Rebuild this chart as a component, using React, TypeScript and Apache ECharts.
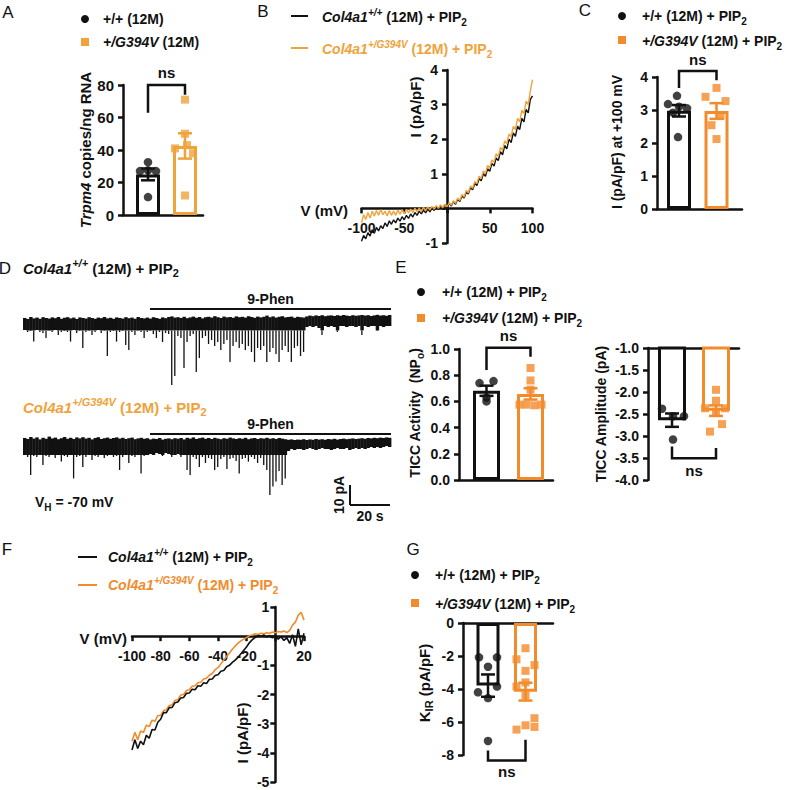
import React, { useEffect, useRef } from "react";
import * as echarts from "echarts";

const FONT = '"Liberation Sans", Arial, Helvetica, sans-serif';
const BLACK = "#111111";
const ORANGE_A = "#F0A23B";
const ORANGE = "#F28B2C";

// ---------------- DATA ----------------
// A: Trpm4 copies / ng RNA
const trpm4WT = [32.5, 27, 27.5, 27, 11];
const trpm4Mut = [71, 50, 43, 41, 38, 12];
// C: I (pA/pF) at +100 mV
const i100WT = [3.43, 3.18, 3.1, 3.05, 2.92, 2.18];
const i100Mut = [3.67, 3.4, 3.27, 2.82, 2.54, 2.12];
// E: TICC activity (NPo) and amplitude (pA)
const ticcActWT = [0.74, 0.755, 0.6, 0.63];
const ticcActMut = [0.855, 0.76, 0.69, 0.575, 0.575, 0.57, 0.575];
const ticcAmpWT = [-2.38, -2.55, -2.55, -3.08];
const ticcAmpMut = [-1.95, -2.2, -2.37, -2.37, -2.45, -2.73, -2.9];
// G: KIR (pA/pF)
const kirWT = [-2.08, -2.08, -2.65, -3.85, -4.2, -4.55, -7.15];
const kirMut = [-1.53, -2.2, -2.55, -2.9, -3.6, -3.85, -4.4, -5.77, -6.2, -6.3, -6.46];

// B: I-V ramp (-100..100 mV, 2.5 mV steps)
const bVoltages = Array.from({ length: 81 }, (_, i) => -100 + 2.5 * i);
const bCurrentWT = [
  -0.95, -0.78, -0.88, -0.7, -0.8, -0.62, -0.72, -0.55, -0.65, -0.5,
  -0.58, -0.42, -0.52, -0.36, -0.46, -0.33, -0.42, -0.28, -0.37, -0.24,
  -0.33, -0.2, -0.29, -0.16, -0.25, -0.12, -0.2, -0.08, -0.16, -0.05,
  -0.13, -0.02, -0.1, 0.01, -0.06, 0.05, -0.03, 0.08, 0.0, 0.11,
  0.03, 0.15, 0.07, 0.2, 0.12, 0.27, 0.2, 0.36, 0.3, 0.47,
  0.42, 0.6, 0.54, 0.72, 0.66, 0.86, 0.8, 1.0, 0.93, 1.15,
  1.07, 1.3, 1.22, 1.46, 1.38, 1.64, 1.55, 1.82, 1.72, 2.0,
  1.9, 2.18, 2.08, 2.38, 2.28, 2.6, 2.5, 2.86, 2.76, 3.15,
  3.25,
];
const bCurrentMut = [
  -0.42, -0.18, -0.32, -0.12, -0.28, -0.08, -0.22, -0.06, -0.2, -0.04,
  -0.18, -0.08, -0.22, -0.06, -0.2, -0.08, -0.2, -0.05, -0.17, -0.04,
  -0.15, -0.03, -0.13, -0.02, -0.12, 0.0, -0.1, 0.01, -0.08, 0.03,
  -0.06, 0.04, -0.04, 0.06, -0.02, 0.08, 0.0, 0.1, 0.02, 0.12,
  0.05, 0.16, 0.09, 0.22, 0.15, 0.3, 0.23, 0.4, 0.33, 0.52,
  0.45, 0.65, 0.58, 0.78, 0.72, 0.93, 0.86, 1.08, 1.01, 1.24,
  1.17, 1.4, 1.33, 1.58, 1.5, 1.76, 1.68, 1.95, 1.87, 2.15,
  2.07, 2.37, 2.28, 2.6, 2.5, 2.84, 2.74, 3.1, 3.0, 3.4,
  3.72,
];

// F: KIR I-V (-100..20 mV, 2 mV steps)
const fVoltages = Array.from({ length: 61 }, (_, i) => -100 + 2 * i);
const fCurrentWT = [
  -3.9, -3.55, -3.85, -3.6, -3.72, -3.4, -3.5, -3.2, -3.22, -2.95,
  -2.85, -2.62, -2.62, -2.45, -2.44, -2.28, -2.26, -2.12, -2.1, -1.96,
  -1.95, -1.82, -1.84, -1.7, -1.72, -1.6, -1.62, -1.48, -1.47, -1.35,
  -1.32, -1.2, -1.18, -1.05, -1.0, -0.9, -0.82, -0.72, -0.6, -0.48,
  -0.36, -0.22, -0.12, -0.04, 0.02, 0.0, 0.04, -0.03, 0.02, -0.06,
  0.0, -0.1, -0.02, -0.15, -0.05, -0.25, 0.05, -0.35, 0.25, -0.3,
  0.1,
];
const fCurrentMut = [
  -3.6, -3.3, -3.55, -3.25, -3.3, -3.05, -3.1, -2.88, -2.92, -2.72,
  -2.72, -2.55, -2.52, -2.38, -2.35, -2.2, -2.18, -2.02, -2.0, -1.86,
  -1.84, -1.72, -1.7, -1.6, -1.58, -1.47, -1.44, -1.34, -1.28, -1.15,
  -1.08, -0.95, -0.82, -0.7, -0.58, -0.45, -0.34, -0.24, -0.16, -0.1,
  -0.04, 0.02, 0.04, 0.08, 0.06, 0.1, 0.08, 0.12, 0.1, 0.14,
  0.12, 0.16, 0.14, 0.18, 0.12, 0.2, 0.38, 0.48, 0.72, 0.82,
  0.55,
];

// D: TICC recordings, per-bin upper / lower excursions (pA)
const wtTraceHi = [
  2, 1.5, 2.5, 1.8, 2.2, 1.6, 2.4, 2, 1.7, 2.3,
  1.9, 2.5, 1.6, 2.1, 2.4, 1.8, 2.2, 1.5, 2.3, 2,
  1.7, 2.4, 2, 1.6, 2.2, 1.9, 2.5, 1.8, 2.1, 1.6,
  2.3, 2, 1.7, 2.4, 1.9, 2.2, 1.6, 2.5, 2, 1.8,
  2.2, 1.7, 2.4, 2, 1.6, 2.3, 1.9, 2.5, 2.8, 2.2,
  2.4, 2, 2.6, 1.9, 2.3, 2.7, 2.1, 2.5, 1.8, 2.4,
  2.6, 2.2, 2.9, 2.4, 2, 2.7, 2.3, 2.5, 2.1, 2.8,
  2.4, 2.6, 2.2, 2.9, 2.5, 2.1, 2.7, 2.3, 2.6, 3.2,
  2.4, 2.8, 2.2, 2.6, 2.9, 2.3, 2.5, 2.7, 2.1, 2.6,
  2.4, 2.2, 2.8, 3.2, 2.9, 3.3, 3, 3.4, 2.9, 3.2,
  3.3, 3, 3.4, 3.1, 3.5, 3.2, 3, 3.4, 3.1, 3.3,
  3.5, 3.2, 3.4, 3, 3.3, 3.6, 3.2, 3.4, 3.1, 3.5,
];
const wtTraceLo = [
  -4, -5, -4.5, -9.8, -4, -5, -5.5, -8, -4.5, -5,
  -4, -6.5, -5, -4.5, -5, -9.8, -4, -5.5, -4.5, -13,
  -5, -4.5, -6.5, -5, -4, -5.5, -4.5, -17, -5, -4.5,
  -9.8, -5, -4.5, -11.5, -14, -5, -6.5, -4.5, -5, -8,
  -5, -4.5, -6, -8, -5, -10, -5.5, -6, -31.5, -27,
  -7, -8, -23, -10, -7, -6, -25, -18, -8, -7,
  -11, -9, -12, -10, -14, -11, -9, -20, -12, -10,
  -13, -11, -14, -12, -15, -20, -13, -14, -12, -20,
  -15, -13, -16, -20, -14, -12, -15, -20, -13, -12,
  -17, -15, -2.5, -2, -2.5, -2, -3, -6.5, -2, -2.5,
  -2, -2.5, -5, -2, -2, -2.5, -2, -2, -2.5, -2,
  -6.5, -2, -2.5, -2, -2, -4.5, -2, -2.5, -2, -2,
];
const mutTraceHi = [
  3.5, 3, 4, 3.2, 3.8, 2.8, 3.6, 3.1, 4.2, 3.3,
  3.7, 2.9, 3.4, 4, 3.1, 3.6, 3, 3.8, 3.3, 3.9,
  3.2, 3.6, 2.8, 3.5, 3.9, 3, 3.4, 3.7, 3.1, 3.5,
  3.8, 3.2, 3.6, 3, 3.4, 3.7, 2.9, 3.3, 3.6, 3.1,
  3.4, 2.8, 3.2, 3, 3.5, 2.7, 3.1, 3.3, 2.9, 3.4,
  3.1, 3.5, 2.8, 3.6, 3.2, 3.8, 3, 3.4, 3.7, 3.1,
  3.5, 3, 3.6, 3.2, 2.9, 3.4, 3.1, 3.7, 3.3, 3,
  3.4, 3.1, 3.6, 2.9, 3.3, 3.5, 3, 3.4, 3.2, 3.6,
  3.1, 3.4, 3, 3.5, 3.2, 2.9, 2.6, 2.8, 2.5, 2.7,
  2.6, 2.9, 2.5, 2.8, 2.6, 3, 2.7, 2.9, 2.6, 3,
  2.8, 3.1, 2.7, 3, 3.2, 2.9, 3.1, 3.3, 3, 3.2,
  3.4, 3.1, 3.5, 3.3, 3.6, 3.4, 3.7, 3.5, 3.8, 3.6,
];
const mutTraceLo = [
  -5, -6, -15, -5.5, -6, -5, -10, -5.5, -6, -5,
  -6.5, -5, -8.3, -5.5, -6, -5, -16.7, -6, -5.5, -11,
  -6, -5, -7.5, -5.5, -6, -5, -6.5, -5.5, -5, -6,
  -5.5, -12.5, -6, -5, -9, -5.5, -6, -5, -14.2, -5.5,
  -5, -4.5, -5, -4, -4.5, -5.5, -4, -4.5, -6, -5,
  -4.5, -6, -5, -12.5, -15, -6, -7, -11, -6, -9,
  -6.5, -7, -12.5, -11, -7, -6, -12, -7, -6.5, -8,
  -14.2, -7, -6.5, -8.3, -6, -7, -9, -6.5, -10, -12.5,
  -25, -20.8, -18.3, -13, -20, -16.7, -3, -2, -2.5, -2,
  -2, -2.5, -2, -1.5, -2, -2.5, -2, -1.5, -2, -2,
  -2.5, -2, -1.5, -2, -2, -1.5, -2.5, -2, -1.5, -2,
  -1.5, -2, -1.5, -1, -1.5, -1, -1.5, -1, -0.5, -1,
];
const TRACE_DT = 184 / 120; // seconds per bin
const PHEN_START = 63.5; // s, 9-Phen application
const TRACE_END = 184; // s
const SCALE_T = 20; // s
const SCALE_I = 10; // pA

// ---------------- HELPERS ----------------
const mean = (a: number[]) => a.reduce((s, v) => s + v, 0) / a.length;
const sem = (a: number[]) => {
  const m = mean(a);
  const sd = Math.sqrt(a.reduce((s, v) => s + (v - m) ** 2, 0) / (a.length - 1));
  return sd / Math.sqrt(a.length);
};

function richStyles(size: number, color: string) {
  const small = Math.round(size * 0.7);
  const base: any = { fill: color, fontFamily: FONT, fontWeight: "bold", fontSize: size, lineHeight: size + 6 };
  return {
    n: { ...base },
    i: { ...base, fontStyle: "italic" },
    supi: { fill: color, fontFamily: FONT, fontWeight: "bold", fontStyle: "italic", fontSize: small, lineHeight: small, verticalAlign: "top" },
    sub: { fill: color, fontFamily: FONT, fontWeight: "bold", fontSize: small, lineHeight: Math.round(small * 0.8), verticalAlign: "bottom" },
  };
}

function txt(x: number, y: number, text: string, size: number, color: string, opts: any = {}) {
  return {
    type: "text",
    x,
    y,
    rotation: opts.rotation || 0,
    silent: true,
    style: {
      text,
      rich: richStyles(size, color),
      fill: color,
      fontFamily: FONT,
      fontWeight: "bold",
      fontSize: size,
      align: opts.align || "left",
      verticalAlign: "middle",
    },
  };
}

function letter(x: number, y: number, t: string) {
  return {
    type: "text", x, y, silent: true,
    style: { text: t, fill: BLACK, fontFamily: FONT, fontSize: 17, align: "center", verticalAlign: "middle" },
  };
}

const dot = (cx: number, cy: number, color: string) => ({ type: "circle", shape: { cx, cy, r: 4 }, style: { fill: color }, silent: true });
const sq = (cx: number, cy: number, color: string) => ({ type: "rect", shape: { x: cx - 4, y: cy - 4, width: 8, height: 8 }, style: { fill: color }, silent: true });
const seg = (x1: number, x2: number, y: number, color: string) => ({ type: "line", shape: { x1, y1: y, x2, y2: y }, style: { stroke: color, lineWidth: 2 }, silent: true });

const axisLine = { show: true, onZero: false, lineStyle: { color: BLACK, width: 2.5 } };
const axisTick = { show: true, length: 5, lineStyle: { color: BLACK, width: 2.5 } };
const labelStyle = { color: BLACK, fontFamily: FONT, fontWeight: "bold" as const, fontSize: 14 };
const hideZero = (v: number) => (v === 0 ? "" : String(v));

type Group = { values: number[]; jitter: number[]; color: string; symbol: string };
type BarPanel = {
  box: { left: number; top: number; width: number; height: number };
  centers: [number, number];
  barWidth: number;
  y: [number, number, number];
  decimals: number;
  xTop: boolean;
  groups: Group[];
  bracket: { y: number; legL: number; legR: number; textY: number };
  labelSize: number;
  name?: { text: string; gap: number; size: number };
};

function addBarPanel(p: BarPanel, gi: number, opt: any) {
  const u = p.centers[1] - p.centers[0];
  const xmin = 1 - (p.centers[0] - p.box.left) / u;
  const xmax = xmin + p.box.width / u;
  opt.grid.push({ ...p.box, containLabel: false });
  opt.xAxis.push({
    type: "value", gridIndex: gi, min: xmin, max: xmax, position: p.xTop ? "top" : "bottom",
    axisLine, axisTick: { show: false }, axisLabel: { show: false }, splitLine: { show: false },
  });
  const yAxis: any = {
    type: "value", gridIndex: gi, min: p.y[0], max: p.y[1], interval: p.y[2], position: "left",
    axisLine, axisTick, splitLine: { show: false },
    axisLabel: { ...labelStyle, fontSize: p.labelSize, margin: 9, formatter: (v: number) => v.toFixed(p.decimals) },
  };
  if (p.name) {
    const base = { color: BLACK, fontFamily: FONT, fontWeight: "bold", fontSize: p.name.size };
    yAxis.name = p.name.text;
    yAxis.nameLocation = "middle";
    yAxis.nameRotate = 90;
    yAxis.nameGap = p.name.gap;
    yAxis.nameTextStyle = { ...base, rich: { n: { ...base }, i: { ...base, fontStyle: "italic" } } };
  }
  opt.yAxis.push(yAxis);
  opt.series.push({
    type: "bar", xAxisIndex: gi, yAxisIndex: gi, barWidth: p.barWidth, z: 2, silent: true,
    data: p.groups.map((g, k) => ({ value: [k + 1, mean(g.values)], itemStyle: { color: "#ffffff", borderColor: g.color, borderWidth: 3 } })),
  });
  p.groups.forEach((g, k) => {
    opt.series.push({
      type: "scatter", xAxisIndex: gi, yAxisIndex: gi, z: 3, silent: true,
      symbol: g.symbol, symbolSize: g.symbol === "circle" ? 8.5 : 8,
      itemStyle: { color: g.color },
      data: g.values.map((v, j) => [k + 1 + g.jitter[j] / u, v]),
    });
  });
  opt.series.push({
    type: "custom", xAxisIndex: gi, yAxisIndex: gi, z: 4, silent: true,
    data: p.groups.map((g, k) => [k + 1, mean(g.values), sem(g.values)]),
    renderItem: (params: any, api: any) => {
      const x = api.value(0), m = api.value(1), s = api.value(2);
      const a = api.coord([x, m + s]);
      const b = api.coord([x, m - s]);
      const color = p.groups[params.dataIndex].color;
      const cap = 7;
      const st = { stroke: color, lineWidth: 2.5 };
      return {
        type: "group",
        children: [
          { type: "line", shape: { x1: a[0], y1: a[1], x2: b[0], y2: b[1] }, style: st },
          { type: "line", shape: { x1: a[0] - cap, y1: a[1], x2: a[0] + cap, y2: a[1] }, style: st },
          { type: "line", shape: { x1: b[0] - cap, y1: b[1], x2: b[0] + cap, y2: b[1] }, style: st },
        ],
      };
    },
  });
  opt.series.push({
    type: "custom", xAxisIndex: gi, yAxisIndex: gi, z: 5, clip: false, silent: true,
    data: [[1, 2, p.bracket.y, p.bracket.legL, p.bracket.legR, p.bracket.textY]],
    renderItem: (_: any, api: any) => {
      const a = api.coord([api.value(0), api.value(3)]);
      const b = api.coord([api.value(0), api.value(2)]);
      const c = api.coord([api.value(1), api.value(2)]);
      const d = api.coord([api.value(1), api.value(4)]);
      const t = api.coord([(api.value(0) + api.value(1)) / 2, api.value(5)]);
      return {
        type: "group",
        children: [
          { type: "polyline", shape: { points: [a, b, c, d] }, style: { stroke: BLACK, lineWidth: 2.5, fill: null } },
          { type: "text", x: t[0], y: t[1], style: { text: "ns", fill: BLACK, fontFamily: FONT, fontWeight: "bold", fontSize: 15, align: "center", verticalAlign: "middle" } },
        ],
      };
    },
  });
}

// I-V panel: axes crossing at the origin (moved there with axis offsets)
function addIVPanel(gi: number, opt: any, box: any, xr: [number, number, number], yr: [number, number, number], yMargin: number) {
  opt.grid.push({ ...box, containLabel: false });
  const zeroY = box.top + box.height * (yr[1] / (yr[1] - yr[0]));
  const zeroX = box.left + box.width * (-xr[0] / (xr[1] - xr[0]));
  opt.xAxis.push({
    type: "value", gridIndex: gi, min: xr[0], max: xr[1], interval: xr[2], position: "bottom",
    offset: -(box.top + box.height - zeroY),
    axisLine, axisTick, splitLine: { show: false },
    axisLabel: { ...labelStyle, margin: 13, formatter: hideZero },
  });
  opt.yAxis.push({
    type: "value", gridIndex: gi, min: yr[0], max: yr[1], interval: yr[2], position: "left",
    offset: -(zeroX - box.left),
    axisLine, axisTick, splitLine: { show: false },
    axisLabel: { ...labelStyle, margin: yMargin, formatter: hideZero },
  });
}

function traceSeries(gi: number, hi: number[], lo: number[], floor: number) {
  return {
    type: "custom", xAxisIndex: gi, yAxisIndex: gi, silent: true, clip: false,
    data: hi.map((h, i) => [i * TRACE_DT, h, lo[i]]),
    renderItem: (_: any, api: any) => {
      const t = api.value(0), h = api.value(1), l = api.value(2);
      const bottom = Math.max(l, floor);
      const p1 = api.coord([t, h]);
      const p2 = api.coord([t + TRACE_DT, bottom]);
      const children: any[] = [
        { type: "rect", shape: { x: p1[0], y: p1[1], width: p2[0] - p1[0] + 0.4, height: p2[1] - p1[1] }, style: { fill: BLACK } },
      ];
      if (l < floor) {
        const a = api.coord([t + TRACE_DT / 2, floor]);
        const b = api.coord([t + TRACE_DT / 2, l]);
        children.push({ type: "line", shape: { x1: a[0], y1: a[1], x2: b[0], y2: b[1] }, style: { stroke: BLACK, lineWidth: 1.3 } });
      }
      return { type: "group", children };
    },
  };
}

function phenSeries(gi: number, yLine: number, yText: number) {
  return {
    type: "custom", xAxisIndex: gi, yAxisIndex: gi, clip: false, silent: true, z: 5,
    data: [[PHEN_START, TRACE_END]],
    renderItem: (_: any, api: any) => {
      const a = api.coord([api.value(0), yLine]);
      const b = api.coord([api.value(1), yLine]);
      const t = api.coord([(api.value(0) + api.value(1)) / 2, yText]);
      return {
        type: "group",
        children: [
          { type: "line", shape: { x1: a[0], y1: a[1], x2: b[0], y2: b[1] }, style: { stroke: BLACK, lineWidth: 2 } },
          { type: "text", x: t[0], y: t[1], style: { text: "9-Phen", fill: BLACK, fontFamily: FONT, fontWeight: "bold", fontSize: 14, align: "center", verticalAlign: "middle" } },
        ],
      };
    },
  };
}

function buildOption() {
  const opt: any = { animation: false, backgroundColor: "#ffffff", grid: [], xAxis: [], yAxis: [], series: [] };

  // 0: A
  addBarPanel({
    box: { left: 123, top: 85, width: 80, height: 130 }, centers: [148, 185], barWidth: 24,
    y: [0, 80, 20], decimals: 0, xTop: false, labelSize: 15,
    name: { text: "{i|Trpm4}{n| copies/ng RNA}", gap: 30, size: 15 },
    groups: [
      { values: trpm4WT, jitter: [0, -8, 0, 8, 0], color: BLACK, symbol: "circle" },
      { values: trpm4Mut, jitter: [0, 0, 2, -10, 8, 0], color: ORANGE_A, symbol: "rect" },
    ],
    bracket: { y: 80, legL: 63, legR: 74, textY: 88 },
  }, 0, opt);

  // 1: B (I-V)
  addIVPanel(1, opt, { left: 361.5, top: 70, width: 171, height: 173 }, [-100, 100, 50], [-1, 4, 1], 9);
  opt.series.push({
    type: "line", xAxisIndex: 1, yAxisIndex: 1, symbol: "none", z: 3, silent: true,
    lineStyle: { color: BLACK, width: 1.4 }, data: bVoltages.map((v, i) => [v, bCurrentWT[i]]),
  });
  opt.series.push({
    type: "line", xAxisIndex: 1, yAxisIndex: 1, symbol: "none", z: 4, silent: true,
    lineStyle: { color: ORANGE_A, width: 1.4 }, data: bVoltages.map((v, i) => [v, bCurrentMut[i]]),
  });

  // 2: C
  addBarPanel({
    box: { left: 657, top: 77, width: 85, height: 132 }, centers: [679, 716.5], barWidth: 24,
    y: [0, 4, 1], decimals: 0, xTop: false, labelSize: 14,
    groups: [
      { values: i100WT, jitter: [-2, -11, 0, 8, -6, -1], color: BLACK, symbol: "circle" },
      { values: i100Mut, jitter: [0, -11, 9, 4, -5, 0], color: ORANGE, symbol: "rect" },
    ],
    bracket: { y: 4.18, legL: 3.67, legR: 3.9, textY: 4.52 },
  }, 2, opt);

  // 3, 4: D traces
  opt.grid.push({ left: 23, top: 302, width: 368, height: 90 });
  opt.xAxis.push({ type: "value", gridIndex: 3, min: 0, max: TRACE_END, show: false });
  opt.yAxis.push({ type: "value", gridIndex: 3, min: -35, max: 10, show: false });
  opt.grid.push({ left: 23, top: 425, width: 368, height: 84 });
  opt.xAxis.push({ type: "value", gridIndex: 4, min: 0, max: TRACE_END, show: false });
  opt.yAxis.push({ type: "value", gridIndex: 4, min: -32, max: 10, show: false });
  opt.series.push(traceSeries(3, wtTraceHi, wtTraceLo, -4.2));
  opt.series.push(traceSeries(4, mutTraceHi, mutTraceLo, -5));
  opt.series.push(phenSeries(3, 6.5, 11.5));
  opt.series.push(phenSeries(4, 5.5, 10.5));
  opt.series.push({
    type: "custom", xAxisIndex: 4, yAxisIndex: 4, clip: false, silent: true,
    data: [[TRACE_END - SCALE_T - 0.5, -30, SCALE_T, SCALE_I]],
    renderItem: (_: any, api: any) => {
      const t0 = api.value(0), y0 = api.value(1), dt = api.value(2), di = api.value(3);
      const o = api.coord([t0, y0]);
      const top = api.coord([t0, y0 + di]);
      const r = api.coord([t0 + dt, y0]);
      const st = { stroke: BLACK, lineWidth: 2 };
      return {
        type: "group",
        children: [
          { type: "line", shape: { x1: top[0], y1: top[1], x2: o[0], y2: o[1] }, style: st },
          { type: "line", shape: { x1: o[0], y1: o[1], x2: r[0], y2: r[1] }, style: st },
          { type: "text", x: o[0] - 11, y: (o[1] + top[1]) / 2, rotation: Math.PI / 2, style: { text: "10 pA", fill: BLACK, fontFamily: FONT, fontWeight: "bold", fontSize: 14, align: "center", verticalAlign: "middle" } },
          { type: "text", x: (o[0] + r[0]) / 2, y: o[1] + 11, style: { text: "20 s", fill: BLACK, fontFamily: FONT, fontWeight: "bold", fontSize: 14, align: "center", verticalAlign: "middle" } },
        ],
      };
    },
  });

  // 5: E activity
  addBarPanel({
    box: { left: 459, top: 349, width: 94, height: 131 }, centers: [486.5, 530.5], barWidth: 27,
    y: [0, 1, 0.2], decimals: 1, xTop: false, labelSize: 14,
    groups: [
      { values: ticcActWT, jitter: [-7, 7, 0, 0], color: BLACK, symbol: "circle" },
      { values: ticcActMut, jitter: [0, 0, 0, -11, -4, 4, 11], color: ORANGE, symbol: "rect" },
    ],
    bracket: { y: 1.01, legL: 0.84, legR: 0.94, textY: 1.1 },
  }, 5, opt);

  // 6: E amplitude
  addBarPanel({
    box: { left: 648, top: 348, width: 91, height: 132 }, centers: [672, 716], barWidth: 28,
    y: [-4, -1, 0.5], decimals: 1, xTop: true, labelSize: 14,
    groups: [
      { values: ticcAmpWT, jitter: [-10, 1, 12, 1], color: BLACK, symbol: "circle" },
      { values: ticcAmpMut, jitter: [0, 0, -11, 9, 0, 6, -6], color: ORANGE, symbol: "rect" },
    ],
    bracket: { y: -3.507, legL: -3.24, legR: -3.27, textY: -3.78 },
  }, 6, opt);

  // 7: F (KIR I-V)
  addIVPanel(7, opt, { left: 132, top: 607, width: 172, height: 175 }, [-100, 20, 20], [-5, 1, 1], 6);
  opt.series.push({
    type: "line", xAxisIndex: 7, yAxisIndex: 7, symbol: "none", z: 3, silent: true,
    lineStyle: { color: ORANGE, width: 1.6 }, data: fVoltages.map((v, i) => [v, fCurrentMut[i]]),
  });
  opt.series.push({
    type: "line", xAxisIndex: 7, yAxisIndex: 7, symbol: "none", z: 4, silent: true,
    lineStyle: { color: BLACK, width: 1.6 }, data: fVoltages.map((v, i) => [v, fCurrentWT[i]]),
  });

  // 8: G
  addBarPanel({
    box: { left: 463, top: 623, width: 90, height: 132 }, centers: [488, 525.5], barWidth: 23,
    y: [-8, 0, 2], decimals: 0, xTop: true, labelSize: 14,
    groups: [
      { values: kirWT, jitter: [-9, 9, 0, 9, -10, 0, 0], color: BLACK, symbol: "circle" },
      { values: kirMut, jitter: [0, -9, 9, 0, 0, -9, 0, 9, 0, 9, -9], color: ORANGE, symbol: "rect" },
    ],
    bracket: { y: -8.33, legL: -7.72, legR: -7.07, textY: -9.0 },
  }, 8, opt);

  // ---------- graphic: letters, legends, titles ----------
  const wtPIP = "{n|+/+ (12M) + PIP}{sub|2}";
  const mutPIP = "{i|+/G394V}{n| (12M) + PIP}{sub|2}";
  const colWT = "{i|Col4a1}{supi|+/+}{n| (12M) + PIP}{sub|2}";
  const colMut = "{i|Col4a1}{supi|+/G394V}{n| (12M) + PIP}{sub|2}";
  const R = Math.PI / 2;

  opt.graphic = {
    elements: [
      letter(8, 12, "A"), letter(263, 11, "B"), letter(585, 10, "C"),
      letter(5, 268, "D"), letter(401, 267, "E"), letter(7, 549, "F"), letter(413, 549, "G"),
      // A legend
      dot(85, 19, BLACK), txt(103, 19, "{n|+/+ (12M)}", 14, BLACK),
      sq(85, 42, ORANGE_A), txt(103, 42, "{i|+/G394V}{n| (12M)}", 14, BLACK),
      // B legend
      seg(291, 308, 16, BLACK), txt(322, 17, colWT, 14, BLACK),
      seg(291, 308, 48, ORANGE_A), txt(322, 49, colMut, 14, ORANGE_A),
      // C legend
      dot(622, 16, BLACK), txt(642, 16, wtPIP, 14, BLACK),
      sq(622, 40, ORANGE), txt(642, 41, mutPIP, 14, BLACK),
      // D titles
      txt(23, 268, colWT, 15, BLACK),
      txt(23, 407, colMut, 15, ORANGE_A),
      txt(35, 502, "{n|V}{sub|H}{n| = -70 mV}", 14, BLACK),
      // E legend
      dot(421, 292, BLACK), txt(442, 292, wtPIP, 14, BLACK),
      sq(421, 318, ORANGE), txt(442, 318, mutPIP, 14, BLACK),
      // F legend
      seg(78, 97, 557, BLACK), txt(108, 557, colWT, 14, BLACK),
      seg(78, 97, 585, ORANGE), txt(108, 585, colMut, 14, ORANGE),
      // G legend
      dot(415, 575, BLACK), txt(435, 575, wtPIP, 14, BLACK),
      sq(415, 603, ORANGE), txt(435, 604, mutPIP, 14, BLACK),
      // axis titles
      txt(415, 107, "{n|I (pA/pF)}", 15, BLACK, { rotation: R, align: "center" }),
      txt(617, 142, "{n|I (pA/pF) at +100 mV}", 14, BLACK, { rotation: R, align: "center" }),
      txt(415, 413, "{n|TICC Activity  (NP}{sub|o}{n|)}", 14, BLACK, { rotation: R, align: "center" }),
      txt(601, 414, "{n|TICC Amplitude (pA)}", 14, BLACK, { rotation: R, align: "center" }),
      txt(424, 683, "{n|K}{sub|IR}{n| (pA/pF)}", 15, BLACK, { rotation: R, align: "center" }),
      txt(242, 733, "{n|I (pA/pF)}", 15, BLACK, { rotation: R, align: "center" }),
      txt(348, 210, "{n|V (mV)}", 15, BLACK, { align: "right" }),
      txt(127, 638, "{n|V (mV)}", 15, BLACK, { align: "right" }),
    ],
  };
  return opt;
}

export default function App() {
  const ref = useRef<HTMLDivElement>(null);
  useEffect(() => {
    if (!ref.current) return;
    const chart = echarts.init(ref.current, null, { renderer: "svg" });
    chart.setOption(buildOption());
    return () => chart.dispose();
  }, []);
  return <div ref={ref} style={{ position: "absolute", left: 0, top: 0, width: 788, height: 790, background: "#ffffff" }} />;
}
